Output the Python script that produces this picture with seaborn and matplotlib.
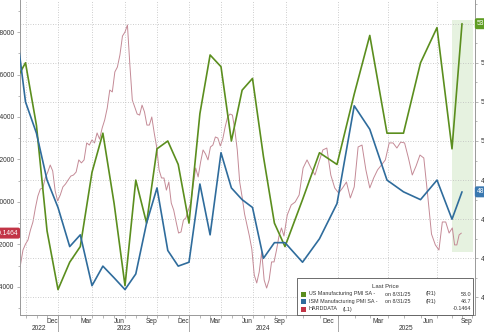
import numpy as np
import pandas as pd
import matplotlib
matplotlib.use("Agg")
import matplotlib.pyplot as plt
import matplotlib.dates as mdates
from matplotlib.ticker import FixedLocator, MultipleLocator, FuncFormatter, NullFormatter
from matplotlib.patches import Rectangle
import seaborn as sns

# ---------------- data ----------------
pmi_months = pd.date_range("2022-08-31", "2025-08-31", freq="ME")
us_mfg_pmi = [51.5, 52.0, 50.4, 47.7, 46.2,
              46.9, 47.3, 49.2, 50.2, 48.4, 46.3, 49.0, 47.9, 49.8, 50.0, 49.4, 47.9,
              50.7, 52.2, 51.9, 50.0, 51.3, 51.6, 49.6, 47.9, 47.3, 48.5, 49.7, 49.4,
              51.2, 52.7, 50.2, 50.2, 52.0, 52.9, 49.8, 53.0]
ism_mfg_pmi = [53.2, 51.0, 50.2, 49.0, 48.3,
               47.3, 47.6, 46.3, 46.8, 46.5, 46.2, 46.6, 47.9, 48.8, 47.2, 46.8, 46.9,
               48.9, 47.6, 49.7, 48.8, 48.5, 48.3, 47.0, 47.4, 47.4, 46.9, 47.5, 48.4,
               50.9, 50.3, 49.0, 48.7, 48.5, 49.0, 48.0, 48.7]

# weekly HARDDATA index (Fridays)
hard_data = [
    -0.344, -0.296, -0.226, -0.198,
    -0.179, -0.132, -0.094, -0.028, 0.028, 0.061, 0.066, 0.113, 0.141, 0.174, 0.146, 0.052, 0.005,
    0.033, 0.071, 0.085, 0.104, 0.122, 0.127, 0.141, 0.198, 0.184, 0.198, 0.278, 0.268, 0.292,
    0.278, 0.325, 0.296, 0.348, 0.386, 0.442, 0.527, 0.518, 0.612, 0.635, 0.692, 0.781, 0.800,
    0.833, 0.645, 0.480, 0.447, 0.414, 0.409, 0.456, 0.424, 0.362, 0.362, 0.400, 0.325, 0.259,
    0.151, 0.113, 0.113, 0.056, 0.094, -0.005, -0.038, -0.094, -0.146, -0.141, -0.085, -0.075, -0.038,
    -0.005, 0.080, 0.160, 0.118, 0.188, 0.245, 0.226, 0.198, 0.259, 0.268, 0.306, 0.301, 0.264,
    0.296, 0.353, 0.400, 0.414, 0.409, 0.339, 0.245, 0.094, 0.024, -0.056, -0.108, -0.160, -0.221,
    -0.344, -0.381, -0.329, -0.235, -0.367, -0.405, -0.367, -0.282, -0.282, -0.226, -0.160, -0.122, -0.160,
    -0.061, -0.014, 0.000, 0.033, 0.160, 0.198, 0.160, 0.127, 0.188, 0.245, 0.254, 0.127, 0.066,
    0.042, 0.066, 0.094, 0.019, 0.071, 0.259, 0.268, 0.151, 0.066, 0.113, 0.151, 0.174, 0.198,
    0.278, 0.278, 0.254, 0.282, 0.278, 0.207, 0.127, 0.170, 0.221, 0.207, 0.033, -0.151, -0.202,
    -0.226, -0.094, -0.094, -0.146,
    -0.122, -0.202, -0.202, -0.155, -0.1464,
]
hard_dates = pd.date_range("2022-09-09", periods=len(hard_data), freq="W-FRI")

# ---------------- styling ----------------
GREEN = "#5b8e1e"
BLUE = "#2f6c9c"
RED = "#c48a96"
TAG_RED = "#c23446"
TAG_GREEN = "#5e9c22"
TAG_BLUE = "#3a78b0"
GRID = "#bdbdbd"
SPINE = "#9a9a9a"
TXT = "#333333"

sns.set_theme(style="white")
plt.rcParams["font.family"] = ["Liberation Sans", "DejaVu Sans"]

W, H = 485, 332
fig = plt.figure(figsize=(W / 100, H / 100), dpi=100)
L, R, T, B = 20, 475, 0, 315
ax = fig.add_axes([L / W, 1 - B / H, (R - L) / W, (B - T) / H])
ax2 = ax.twinx()

# ---------------- time axis: piecewise scale between quarter breaks ----------------
break_dates = pd.to_datetime([
    "2022-08-31", "2022-09-30", "2022-12-31", "2023-03-31", "2023-06-30", "2023-09-30",
    "2023-12-31", "2024-03-31", "2024-06-30", "2024-09-30", "2024-12-31", "2025-03-31",
    "2025-06-30", "2025-07-31", "2025-08-31", "2025-09-30"])
break_pos = [14.7, 25.5, 58, 92, 125, 157, 189, 221, 252.5, 285, 337, 387, 437, 452, 462, 472]
bn = mdates.date2num(break_dates)
bn = np.concatenate([[bn[0] - 1e5], bn, [bn[-1] + 1e5]])
bp = np.concatenate([[break_pos[0] - 0.35e5], break_pos, [break_pos[-1] + 0.33e5]])


def fwd(x):
    return np.interp(x, bn, bp)


def inv(p):
    return np.interp(p, bp, bn)


# ---------------- series ----------------
hard_df = pd.DataFrame({"date": hard_dates, "HARDDATA": hard_data})
pmi_df = pd.DataFrame({"date": pmi_months, "US": us_mfg_pmi, "ISM": ism_mfg_pmi})

sns.lineplot(data=hard_df, x="date", y="HARDDATA", ax=ax, color=RED,
             linewidth=0.7, estimator=None, zorder=3)
sns.lineplot(data=pmi_df, x="date", y="US", ax=ax2, color=GREEN,
             linewidth=1.2, estimator=None, zorder=4)
sns.lineplot(data=pmi_df, x="date", y="ISM", ax=ax2, color=BLUE,
             linewidth=1.2, estimator=None, zorder=5)

ax.set_xscale("function", functions=(fwd, inv))
x0, x1 = inv(L), inv(R)
ax.set_xlim(x0, x1)
ax.set_ylim(-0.5318, 0.9506)
ax2.set_ylim(45.55, 53.606)

for a in (ax, ax2):
    a.set_xlabel("")
    a.set_ylabel("")
    a.grid(False)
    for s in a.spines.values():
        s.set_color(SPINE)
        s.set_linewidth(0.6)
    a.spines["top"].set_visible(False)

# horizontal grid on right-axis integers
ax2.yaxis.set_major_locator(MultipleLocator(1))
ax2.yaxis.set_minor_locator(MultipleLocator(0.5))
ax2.yaxis.set_major_formatter(FuncFormatter(lambda v, p: f"{v:.0f}"))
ax2.grid(axis="y", which="major", color=GRID, linestyle=(0, (1, 2)), linewidth=0.6)
ax2.tick_params(axis="y", which="both", right=True, direction="out", colors=SPINE,
                labelcolor=TXT, labelsize=4.8, width=0.5, pad=1.5)
ax2.tick_params(axis="y", which="major", length=2.5)
ax2.tick_params(axis="y", which="minor", length=1.5)

# left axis
ax.yaxis.set_major_locator(MultipleLocator(0.2))
ax.yaxis.set_minor_locator(MultipleLocator(0.1))
ax.yaxis.set_major_formatter(FuncFormatter(lambda v, p: f"{(0.0 if abs(v) < 1e-9 else v):.4f}"))
ax.tick_params(axis="y", which="both", left=True, direction="out", colors=SPINE,
               labelcolor=TXT, labelsize=4.8, width=0.5, pad=1.5)
ax.tick_params(axis="y", which="major", length=2.5)
ax.tick_params(axis="y", which="minor", length=1.5)

# x ticks: month boundaries, labels centred on quarter-end months
ax.xaxis.set_major_locator(mdates.MonthLocator())
ax.xaxis.set_major_formatter(NullFormatter())
label_months = [d + pd.Timedelta(days=14) for d in pd.date_range("2022-12-01", "2025-09-01", freq="MS")
                if d.month in (3, 6, 9, 12)]
ax.xaxis.set_minor_locator(FixedLocator(mdates.date2num(label_months)))
ax.xaxis.set_minor_formatter(FuncFormatter(lambda x, p: mdates.num2date(x).strftime("%b")))
ax.tick_params(axis="x", which="major", bottom=True, length=2, width=0.5, colors=SPINE)
ax.tick_params(axis="x", which="minor", bottom=True, length=0, labelsize=4.8,
               labelcolor=TXT, pad=2)

# vertical grid at quarter boundaries
for d in pd.date_range("2022-10-01", "2025-07-01", freq="QS"):
    ax.axvline(mdates.date2num(d), color=GRID, linestyle=(0, (1, 2)), linewidth=0.6, zorder=1)

# year row
for yr in (2022, 2023, 2024, 2025):
    lo = max(mdates.date2num(pd.Timestamp(f"{yr}-01-01")), x0)
    hi = min(mdates.date2num(pd.Timestamp(f"{yr + 1}-01-01")), x1)
    mid = inv((fwd(lo) + fwd(hi)) / 2)
    ax.text(mid, -13 / 315, str(yr), transform=ax.get_xaxis_transform(), ha="center",
            va="center", fontsize=4.8, color=TXT, clip_on=False)
    if yr > 2022:
        ax.axvline(lo, ymin=-17 / 315, ymax=0, color=SPINE, linewidth=0.6, clip_on=False)

# highlighted latest-month band
ax.axvspan(mdates.date2num(pd.Timestamp("2025-07-31")), inv(473), ymin=1 - 252 / 315,
           ymax=1 - 20 / 315, color="#e6f2e0", lw=0, zorder=0)

# last-value tags
ax.text(-0.004, hard_data[-1], f"{hard_data[-1]:.4f}", transform=ax.get_yaxis_transform(),
        ha="right", va="center", fontsize=4.8, color="white", clip_on=False, zorder=20,
        bbox=dict(boxstyle="round,pad=0.3", fc=TAG_RED, ec="none"))
ax2.text(1.004, us_mfg_pmi[-1], f"{us_mfg_pmi[-1]:.1f}", transform=ax2.get_yaxis_transform(),
         ha="left", va="center", fontsize=4.8, color="white", clip_on=False, zorder=20,
         bbox=dict(boxstyle="round,pad=0.3", fc=TAG_GREEN, ec="none"))
ax2.text(1.004, ism_mfg_pmi[-1], f"{ism_mfg_pmi[-1]:.1f}", transform=ax2.get_yaxis_transform(),
         ha="left", va="center", fontsize=4.8, color="white", clip_on=False, zorder=20,
         bbox=dict(boxstyle="round,pad=0.3", fc=TAG_BLUE, ec="none"))


# ---------------- legend panel ----------------
def fx(x):
    return x / W


def fy(y):
    return 1 - y / H


fig.add_artist(Rectangle((fx(297), fy(315)), (473 - 297) / W, (315 - 278) / H,
                         transform=fig.transFigure, fc="white", ec="#555555", lw=0.6, zorder=10))
LEG_FONT = ["Liberation Sans", "DejaVu Sans"]
LEG_SIZE = 3.9
fig.text(fx(385), fy(286), "Last Price", ha="center", va="center", fontsize=4.3,
         color=TXT, family=LEG_FONT, zorder=11)
rows = [
    (GREEN, "US Manufacturing PMI SA -", "on 8/31/25", "(R1)", f"{us_mfg_pmi[-1]:.1f}", 294),
    (BLUE, "ISM Manufacturing PMI SA -", "on 8/31/25", "(R1)", f"{ism_mfg_pmi[-1]:.1f}", 301.5),
    (TAG_RED, "HARDDATA", "", "(L1)", f"{hard_data[-1]:.4f}", 309),
]
for col, name, when, side, val, yy in rows:
    fig.add_artist(Rectangle((fx(301.5), fy(yy + 2.5)), 5 / W, 5 / H, transform=fig.transFigure,
                             fc=col, ec="none", zorder=11))
    fig.text(fx(309), fy(yy), name, ha="left", va="center", fontsize=LEG_SIZE, color=TXT,
             family=LEG_FONT, zorder=11)
    if when:
        fig.text(fx(385), fy(yy), when, ha="left", va="center", fontsize=LEG_SIZE, color=TXT,
                 family=LEG_FONT, zorder=11)
        fig.text(fx(426), fy(yy), side, ha="left", va="center", fontsize=LEG_SIZE, color=TXT,
                 family=LEG_FONT, zorder=11)
    else:
        fig.text(fx(343), fy(yy), side, ha="left", va="center", fontsize=LEG_SIZE, color=TXT,
                 family=LEG_FONT, zorder=11)
    fig.text(fx(471), fy(yy), val, ha="right", va="center", fontsize=LEG_SIZE, color=TXT,
             family=LEG_FONT, zorder=11)

fig.savefig("out.png", dpi=100)
